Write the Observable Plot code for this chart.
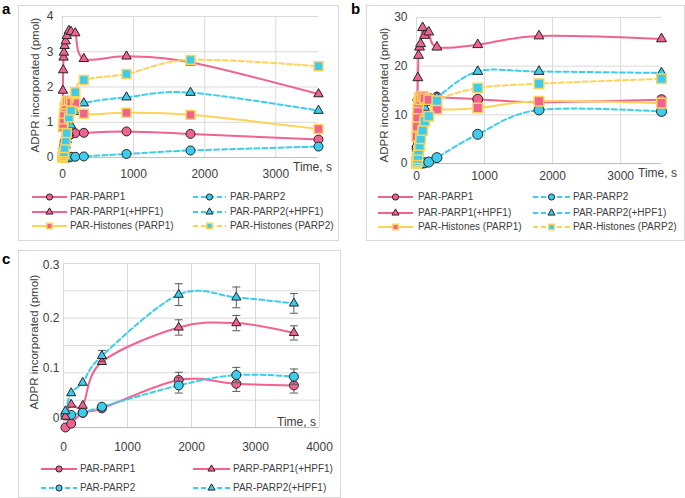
<!DOCTYPE html>
<html><head><meta charset="utf-8">
<script src="https://cdn.jsdelivr.net/npm/d3@7"></script>
<script src="https://cdn.jsdelivr.net/npm/@observablehq/plot@0.6"></script>
<style>
html,body{margin:0;padding:0;background:#fff;}
#root{position:relative;width:685px;height:498px;overflow:hidden;font-family:"Liberation Sans",Arial,sans-serif;color:#404040;}
.frame{position:absolute;border:1px solid #d9d9d9;box-sizing:border-box;}
.lbl{position:absolute;white-space:nowrap;line-height:1;}
.letter{font-weight:bold;font-size:15px;color:#000;}
.ytitle{font-size:11.5px;transform:translate(-50%,-50%) rotate(-90deg);}
.xtitle{font-size:12px;}
.leg{font-size:10px;line-height:12px;}
.abs{position:absolute;overflow:visible;}
</style></head><body><div id="root"></div>
<script>
// ---------------- DATA ----------------
// Panel a (pmol), time in s
const tA = [0, 5, 10, 15, 20, 30, 45, 60, 90, 120, 180, 300, 900, 1800, 3600];
const aPARP1      = [0, 0.05, 0.15, 0.25, 0.35, 0.45, 0.52, 0.58, 0.63, 0.66, 0.69, 0.70, 0.74, 0.67, 0.51];
const aPARP2      = [0, 0, 0, 0, 0, 0, 0, 0, 0, 0.02, 0.02, 0.03, 0.10, 0.20, 0.31];
const aPARP1HPF1  = [0, 1.9, 2.48, 2.84, 2.98, 3.17, 3.3, 3.45, 3.6, 3.57, 3.53, 2.80, 2.87, 2.70, 1.80];
const aPARP2HPF1  = [0, 0, 0.03, 0.06, 0.1, 0.2, 0.35, 0.5, 0.7, 0.91, 1.3, 1.54, 1.71, 1.84, 1.33];
const aHistPARP1  = [0, 0.86, 0.95, 1.08, 1.24, 1.43, 1.5, 1.6, 1.62, 1.57, 1.55, 1.24, 1.27, 1.21, 0.81];
const aHistPARP2  = [0, 0.02, 0.05, 0.1, 0.15, 0.27, 0.48, 0.69, 1.13, 1.33, 1.85, 2.20, 2.37, 2.77, 2.59];

// Panel b (pmol)
const tB = [0, 5, 10, 15, 20, 30, 45, 60, 90, 120, 180, 300, 900, 1800, 3600];
const bPARP1      = [0, 1, 3, 5, 7, 9, 11, 12, 12.8, 13.2, 13.4, 13.6, 13.2, 12.6, 13.1];
const bPARP2      = [0, 0, 0, 0, 0, 0, 0, 0, 0.1, 0.15, 0.3, 1.2, 6.0, 11.0, 10.7];
const bPARP1HPF1  = [0, 4, 9.9, 13.6, 17.6, 22.2, 23.9, 24.6, 27.9, 26.3, 27.0, 23.9, 24.4, 26.2, 25.6];
const bPARP2HPF1  = [0, 1, 3, 4, 6, 7.5, 8.5, 9.5, 10.5, 11.5, 12.5, 13.6, 18.9, 18.9, 18.6];
const bHistPARP1  = [0, 5.5, 7.6, 9.5, 11.2, 12.5, 13.5, 13.1, 13.8, 13.4, 13.1, 11.2, 11.4, 12.8, 12.4];
const bHistPARP2  = [0, 0.2, 0.5, 1.0, 1.6, 2.7, 3.7, 5.1, 6.8, 8.7, 9.7, 12.9, 15.5, 16.4, 17.4];

// Panel c (pmol) with error bars
const tC = [30, 120, 300, 600, 1800, 2700, 3600];
const cPARP1      = [0.0, 0.007, 0.027, 0.035, 0.087, 0.080, 0.077];
const cPARP1err   = [null, null, null, null, 0.014, 0.014, 0.014];
const cPARP2      = [0.022, 0.023, 0.027, 0.038, 0.077, 0.096, 0.093];
const cPARP2err   = [null, null, null, null, 0.014, 0.014, 0.014];
const cPARP1HPF1  = [0.02, 0.042, 0.040, 0.12, 0.183, 0.191, 0.173];
const cPARP1HPF1err = [null, null, null, null, 0.014, 0.014, 0.013];
const cPARP2HPF1  = [0.03, 0.063, 0.082, 0.131, 0.243, 0.238, 0.227];
const cPARP2HPF1err = [null, null, null, 0.010, 0.020, 0.019, 0.018];

// Tick labels / names
const xTicksAB = [0, 1000, 2000, 3000];
const yTicksA = [0, 1, 2, 3, 4];
const yTicksB = [0, 10, 20, 30];
const xTicksC = [0, 1000, 2000, 3000, 4000];
const yTicksC = [0, 0.1, 0.2, 0.3];
const namesAB = ["PAR-PARP1", "PAR-PARP2", "PAR-PARP1(+HPF1)", "PAR-PARP2(+HPF1)", "PAR-Histones (PARP1)", "PAR-Histones (PARP2)"];
const namesC = ["PAR-PARP1", "PAR-PARP2", "PARP-PARP1(+HPF1)", "PAR-PARP2(+HPF1)"];
const yTitle = "ADPR incorporated (pmol)";
const xTitle = "Time, s";

// ---------------- STYLE ----------------
const PINK = "#f2628f", CYAN = "#3ccdee", YELLOW = "#fdd35a", DARK = "#262626";
const styles = {
  "PAR-PARP1":            {line: PINK, dash: false, symbol: "circle",   fill: PINK, stroke: DARK, sw: 1},
  "PAR-PARP2":            {line: CYAN, dash: true,  symbol: "circle",   fill: CYAN, stroke: DARK, sw: 1},
  "PAR-PARP1(+HPF1)":     {line: PINK, dash: false, symbol: "triangle", fill: PINK, stroke: DARK, sw: 1},
  "PARP-PARP1(+HPF1)":    {line: PINK, dash: false, symbol: "triangle", fill: PINK, stroke: DARK, sw: 1},
  "PAR-PARP2(+HPF1)":     {line: CYAN, dash: true,  symbol: "triangle", fill: CYAN, stroke: DARK, sw: 1},
  "PAR-Histones (PARP1)": {line: YELLOW, dash: false, symbol: "square", fill: PINK, stroke: YELLOW, sw: 1.5},
  "PAR-Histones (PARP2)": {line: YELLOW, dash: true,  symbol: "square", fill: CYAN, stroke: YELLOW, sw: 1.5}
};

const root = document.getElementById("root");
function div(cls, x, y, text) {
  const d = document.createElement("div");
  d.className = "lbl " + cls;
  d.style.left = x + "px"; d.style.top = y + "px";
  d.textContent = text;
  root.appendChild(d);
  return d;
}
function frame(x, y, w, h) {
  const d = document.createElement("div");
  d.className = "frame";
  Object.assign(d.style, {left: x + "px", top: y + "px", width: w + "px", height: h + "px"});
  root.appendChild(d);
}

const capSymbol = {draw(ctx) { ctx.moveTo(-4, 0); ctx.lineTo(4, 0); }};

function makePanel(cfg) {
  const marks = [
    Plot.gridY({ticks: cfg.gridY, stroke: "#d9d9d9", strokeOpacity: 1}),
    Plot.gridX({ticks: cfg.gridX, stroke: "#d9d9d9", strokeOpacity: 1}),
    Plot.ruleY([0], {stroke: "#bfbfbf"}),
    Plot.axisX({ticks: cfg.xTicks, tickSize: 0, tickPadding: cfg.xPad, tickFormat: d => String(d), label: null})
  ];
  cfg.yAxes.forEach(ax => marks.push(Plot.axisY({ticks: ax.ticks, tickSize: 0, tickPadding: cfg.yPad, tickFormat: ax.fmt, label: null, dy: ax.dy || 0})));
  cfg.series.forEach(s => {
    const st = styles[s.name];
    const rows = s.t.map((t, i) => ({t, v: s.v[i], e: s.e ? s.e[i] : null}));
    marks.push(Plot.line(rows, {x: "t", y: "v", stroke: st.line, strokeWidth: 2, strokeDasharray: st.dash ? "5,3" : undefined, curve: "cardinal"}));
    if (s.e) {
      const er = rows.filter(d => d.e != null);
      marks.push(Plot.ruleX(er, {x: "t", y1: d => d.v - d.e, y2: d => d.v + d.e, stroke: "#595959", strokeWidth: 1}));
      marks.push(Plot.dot(er, {x: "t", y: d => d.v + d.e, symbol: capSymbol, fill: "none", stroke: "#595959", strokeWidth: 1}));
      marks.push(Plot.dot(er, {x: "t", y: d => d.v - d.e, symbol: capSymbol, fill: "none", stroke: "#595959", strokeWidth: 1}));
    }
    marks.push(Plot.dot(rows, {x: "t", y: "v", symbol: st.symbol, r: cfg.r[st.symbol], fill: st.fill, stroke: st.stroke, strokeWidth: st.sw}));
  });
  const svg = Plot.plot({
    width: cfg.width, height: cfg.height,
    marginLeft: cfg.ml, marginRight: cfg.mr, marginTop: cfg.mt, marginBottom: cfg.mb,
    x: {domain: cfg.xDomain}, y: {domain: cfg.yDomain},
    style: {fontFamily: "'Liberation Sans', Arial, sans-serif", fontSize: "12px", color: "#404040", background: "transparent", overflow: "visible"},
    marks
  });
  svg.classList.add("abs");
  svg.style.left = cfg.left + "px"; svg.style.top = cfg.top + "px";
  root.appendChild(svg);
}

function legendItem(x1, x2, xt, yc, name) {
  const st = styles[name];
  const w = x2 - x1;
  const svg = d3.create("svg").attr("class", "abs").attr("width", w).attr("height", 12)
    .style("left", x1 + "px").style("top", (yc - 6) + "px");
  svg.append("line").attr("x1", 0).attr("x2", w).attr("y1", 6).attr("y2", 6)
    .attr("stroke", st.line).attr("stroke-width", 2).attr("stroke-dasharray", st.dash ? "5,3" : null);
  const sym = {circle: d3.symbolCircle, triangle: d3.symbolTriangle, square: d3.symbolSquare}[st.symbol];
  const size = {circle: 30, triangle: 22, square: 30}[st.symbol];
  svg.append("path").attr("d", d3.symbol(sym, size)()).attr("transform", `translate(${w / 2},6)`)
    .attr("fill", st.fill).attr("stroke", st.stroke).attr("stroke-width", st.sw);
  root.appendChild(svg.node());
  div("leg", xt, yc - 6, name);
}

// ---------------- FRAMES ----------------
frame(18, 5, 321, 236);
frame(366, 5, 319, 236);
frame(18, 250, 323, 248);

// ---------------- PANEL A ----------------
makePanel({
  left: 18, top: 5, width: 320, height: 185, ml: 44, mr: 20, mt: 11, mb: 33,
  xDomain: [0, 3600], yDomain: [0, 4],
  gridY: [1, 2, 3, 4], gridX: [0, 1000, 2000, 3000],
  xTicks: xTicksAB, xPad: 12, yPad: 9,
  yAxes: [{ticks: yTicksA, fmt: d => String(d)}],
  r: {circle: 4.5, triangle: 3.5, square: 5},
  series: [
    {name: namesAB[0], t: tA, v: aPARP1},
    {name: namesAB[1], t: tA, v: aPARP2},
    {name: namesAB[2], t: tA, v: aPARP1HPF1},
    {name: namesAB[3], t: tA, v: aPARP2HPF1},
    {name: namesAB[4], t: tA, v: aHistPARP1},
    {name: namesAB[5], t: tA, v: aHistPARP2}
  ]
});
div("letter", 2, 1, "a");
div("ytitle", 36, 85, yTitle);
div("xtitle", 293, 161, xTitle);
[[0, 2, 4], [1, 3, 5]].forEach((col, ci) => col.forEach((k, ri) => {
  const ys = [197, 212, 226];
  if (ci === 0) legendItem(32, 67, 70, ys[ri], namesAB[k]);
  else legendItem(193, 226, 230, ys[ri], namesAB[k]);
}));

// ---------------- PANEL B ----------------
makePanel({
  left: 366, top: 5, width: 319, height: 185, ml: 50, mr: 24, mt: 12, mb: 27,
  xDomain: [0, 3600], yDomain: [0, 30],
  gridY: [10, 20, 30], gridX: [0, 1000, 2000, 3000],
  xTicks: xTicksAB, xPad: 8, yPad: 9,
  yAxes: [{ticks: yTicksB, fmt: d => String(d)}],
  r: {circle: 5, triangle: 3.7, square: 5.4},
  series: [
    {name: namesAB[0], t: tB, v: bPARP1},
    {name: namesAB[1], t: tB, v: bPARP2},
    {name: namesAB[2], t: tB, v: bPARP1HPF1},
    {name: namesAB[3], t: tB, v: bPARP2HPF1},
    {name: namesAB[4], t: tB, v: bHistPARP1},
    {name: namesAB[5], t: tB, v: bHistPARP2}
  ]
});
div("letter", 351, 1, "b");
div("ytitle", 385, 95, yTitle);
div("xtitle", 638, 167, xTitle);
[[0, 2, 4], [1, 3, 5]].forEach((col, ci) => col.forEach((k, ri) => {
  const ys = [197, 213, 227];
  if (ci === 0) legendItem(378, 413, 418, ys[ri], namesAB[k]);
  else legendItem(533, 570, 573, ys[ri], namesAB[k]);
}));

// ---------------- PANEL C ----------------
const fmtC = d => d === 0 ? "0" : d.toFixed(1);
makePanel({
  left: 18, top: 250, width: 323, height: 205, ml: 45, mr: 22, mt: 13, mb: 28,
  xDomain: [0, 4000], yDomain: [0, 0.3],
  gridY: [0.05, 0.1, 0.15, 0.2, 0.25, 0.3], gridX: [0, 1000, 2000, 3000, 4000],
  xTicks: xTicksC, xPad: 15, yPad: 4,
  yAxes: [
    {ticks: [yTicksC[3]], fmt: fmtC, dy: 2},
    {ticks: [yTicksC[2]], fmt: fmtC, dy: 0},
    {ticks: [yTicksC[1]], fmt: fmtC, dy: -5},
    {ticks: [yTicksC[0]], fmt: fmtC, dy: -9}
  ],
  r: {circle: 4.5, triangle: 3.4, square: 5},
  series: [
    {name: namesC[0], t: tC, v: cPARP1, e: cPARP1err},
    {name: namesC[1], t: tC, v: cPARP2, e: cPARP2err},
    {name: namesC[2], t: tC, v: cPARP1HPF1, e: cPARP1HPF1err},
    {name: namesC[3], t: tC, v: cPARP2HPF1, e: cPARP2HPF1err}
  ]
});
div("letter", 2, 251, "c");
div("ytitle", 35, 342, yTitle);
div("xtitle", 277, 416, xTitle);
legendItem(41, 77, 80, 469, namesC[0]);
legendItem(41, 77, 80, 488, namesC[1]);
legendItem(193, 230, 233, 469, namesC[2]);
legendItem(193, 230, 233, 488, namesC[3]);
</script></body></html>
